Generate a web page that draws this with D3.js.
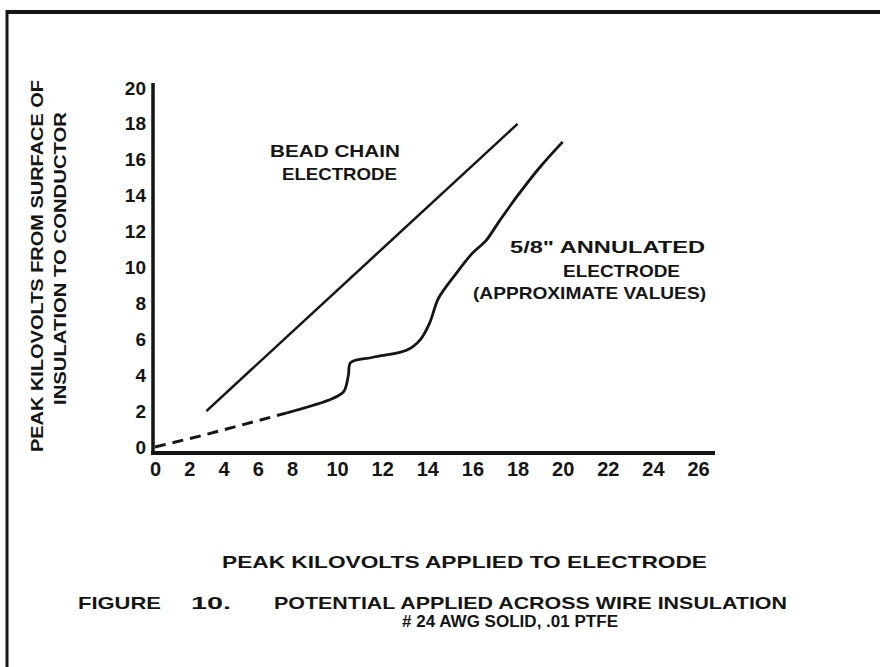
<!DOCTYPE html>
<html>
<head>
<meta charset="utf-8">
<script src="https://cdn.jsdelivr.net/npm/d3@7"></script>
<style>
  html, body { margin: 0; padding: 0; background: #fff; }
  svg { display: block; }
  text { font-family: "Liberation Sans", Arial, sans-serif; font-weight: bold; fill: #151515; }
</style>
</head>
<body>
<svg id="chart" width="880" height="667"></svg>
<script>
// tick values
const xTicks = [0, 2, 4, 6, 8, 10, 12, 14, 16, 18, 20, 22, 24, 26];
const yTicks = [0, 2, 4, 6, 8, 10, 12, 14, 16, 18, 20];

// bead chain electrode (straight line)
const beadChain = [
  { kv: 3, out: 2 },
  { kv: 18, out: 18 }
];

// 5/8" annulated electrode, dashed low part
const annulatedDashed = [
  { kv: 0, out: 0 },
  { kv: 3, out: 0.7 },
  { kv: 7.7, out: 1.9 }
];

// 5/8" annulated electrode, solid part
const annulatedSolid = [
  { kv: 7.7, out: 1.9 },
  { kv: 9.8, out: 2.7 },
  { kv: 10.3, out: 3.1 },
  { kv: 10.5, out: 4.0 },
  { kv: 10.6, out: 4.7 },
  { kv: 11.6, out: 5.0 },
  { kv: 13.1, out: 5.4 },
  { kv: 13.7, out: 6.0 },
  { kv: 14.1, out: 6.9 },
  { kv: 14.5, out: 8.3 },
  { kv: 15.3, out: 9.7 },
  { kv: 16.0, out: 10.8 },
  { kv: 16.6, out: 11.5 },
  { kv: 17.2, out: 12.6 },
  { kv: 18.0, out: 14.0 },
  { kv: 19.0, out: 15.6 },
  { kv: 20.0, out: 17.0 }
];

const svg = d3.select("#chart");
const ink = "#151515";

// hand-lettered x labels are spaced tighter below 8 than above
const x = d3.scaleLinear().domain([0, 8, 26]).range([155, 292, 698]);
const y = d3.scaleLinear().domain([0, 20]).range([447, 88]);

svg.append("rect").attr("width", 880).attr("height", 667).attr("fill", "#fff");

// page frame (top and left edges of the scanned box)
svg.append("line").attr("x1", 6).attr("x2", 880).attr("y1", 12).attr("y2", 12)
  .attr("stroke", ink).attr("stroke-width", 4);
svg.append("line").attr("x1", 7).attr("x2", 7).attr("y1", 10).attr("y2", 667)
  .attr("stroke", ink).attr("stroke-width", 3);

// axes
const xAxis = svg.append("g")
  .attr("transform", `translate(0,${y(0) + 6})`)
  .call(d3.axisBottom(x).tickValues(xTicks).tickSize(0).tickPadding(9).tickFormat(d3.format("d")));
xAxis.select(".domain").remove();
xAxis.selectAll("text").attr("font-size", 20).attr("font-family", null).attr("fill", ink);

const yAxis = svg.append("g")
  .attr("transform", `translate(${x(0) - 2},0)`)
  .call(d3.axisLeft(y).tickValues(yTicks).tickSize(0).tickPadding(7).tickFormat(d3.format("d")));
yAxis.select(".domain").remove();
yAxis.selectAll("text").attr("font-size", 19).attr("font-family", null).attr("fill", ink);

// thick axis lines
svg.append("line")
  .attr("x1", x(0) - 2).attr("x2", x(0) - 2)
  .attr("y1", y(20) - 5).attr("y2", y(0) + 7)
  .attr("stroke", ink).attr("stroke-width", 3.5);
svg.append("line")
  .attr("x1", x(0) - 4).attr("x2", x(26) + 17)
  .attr("y1", y(0) + 6).attr("y2", y(0) + 6)
  .attr("stroke", ink).attr("stroke-width", 4);

// curves
const line = d3.line().x(d => x(d.kv)).y(d => y(d.out));
const curved = d3.line().x(d => x(d.kv)).y(d => y(d.out)).curve(d3.curveCatmullRom.alpha(0.5));

svg.append("path").datum(beadChain)
  .attr("d", line).attr("fill", "none").attr("stroke", ink).attr("stroke-width", 2.5);

svg.append("path").datum(annulatedDashed)
  .attr("d", line).attr("fill", "none").attr("stroke", ink)
  .attr("stroke-width", 3).attr("stroke-dasharray", "11,7");

svg.append("path").datum(annulatedSolid)
  .attr("d", curved).attr("fill", "none").attr("stroke", ink)
  .attr("stroke-width", 2.8).attr("stroke-linejoin", "round");

// labels on the curves
function label(txt, x0, y0, len, size) {
  const t = svg.append("text").attr("x", x0).attr("y", y0)
    .attr("font-size", size).text(txt);
  if (len) t.attr("textLength", len).attr("lengthAdjust", "spacingAndGlyphs");
  return t;
}

label("BEAD CHAIN", 270, 157, 130, 17);
label("ELECTRODE", 282, 180, 115, 17);
label("5/8\"  ANNULATED", 510, 253, 195, 17);
label("ELECTRODE", 563, 277, 117, 17);
label("(APPROXIMATE  VALUES)", 473, 299, 233, 17);

// axis titles
label("PEAK   KILOVOLTS   APPLIED   TO  ELECTRODE", 222, 568, 485, 17);

const yTitle = svg.append("g").attr("transform", "rotate(-90)");
yTitle.append("text").attr("x", -452).attr("y", 43).attr("font-size", 17)
  .attr("textLength", 372).attr("lengthAdjust", "spacingAndGlyphs")
  .text("PEAK  KILOVOLTS  FROM  SURFACE  OF");
yTitle.append("text").attr("x", -405).attr("y", 66).attr("font-size", 17)
  .attr("textLength", 293).attr("lengthAdjust", "spacingAndGlyphs")
  .text("INSULATION TO CONDUCTOR");

// figure caption
label("FIGURE", 78, 609, 83, 17);
label("10.", 191, 609, 40, 17);
label("POTENTIAL  APPLIED  ACROSS  WIRE  INSULATION", 274, 609, 513, 17);
label("# 24 AWG  SOLID,  .01 PTFE", 402, 627, 216, 16);
</script>
</body>
</html>
